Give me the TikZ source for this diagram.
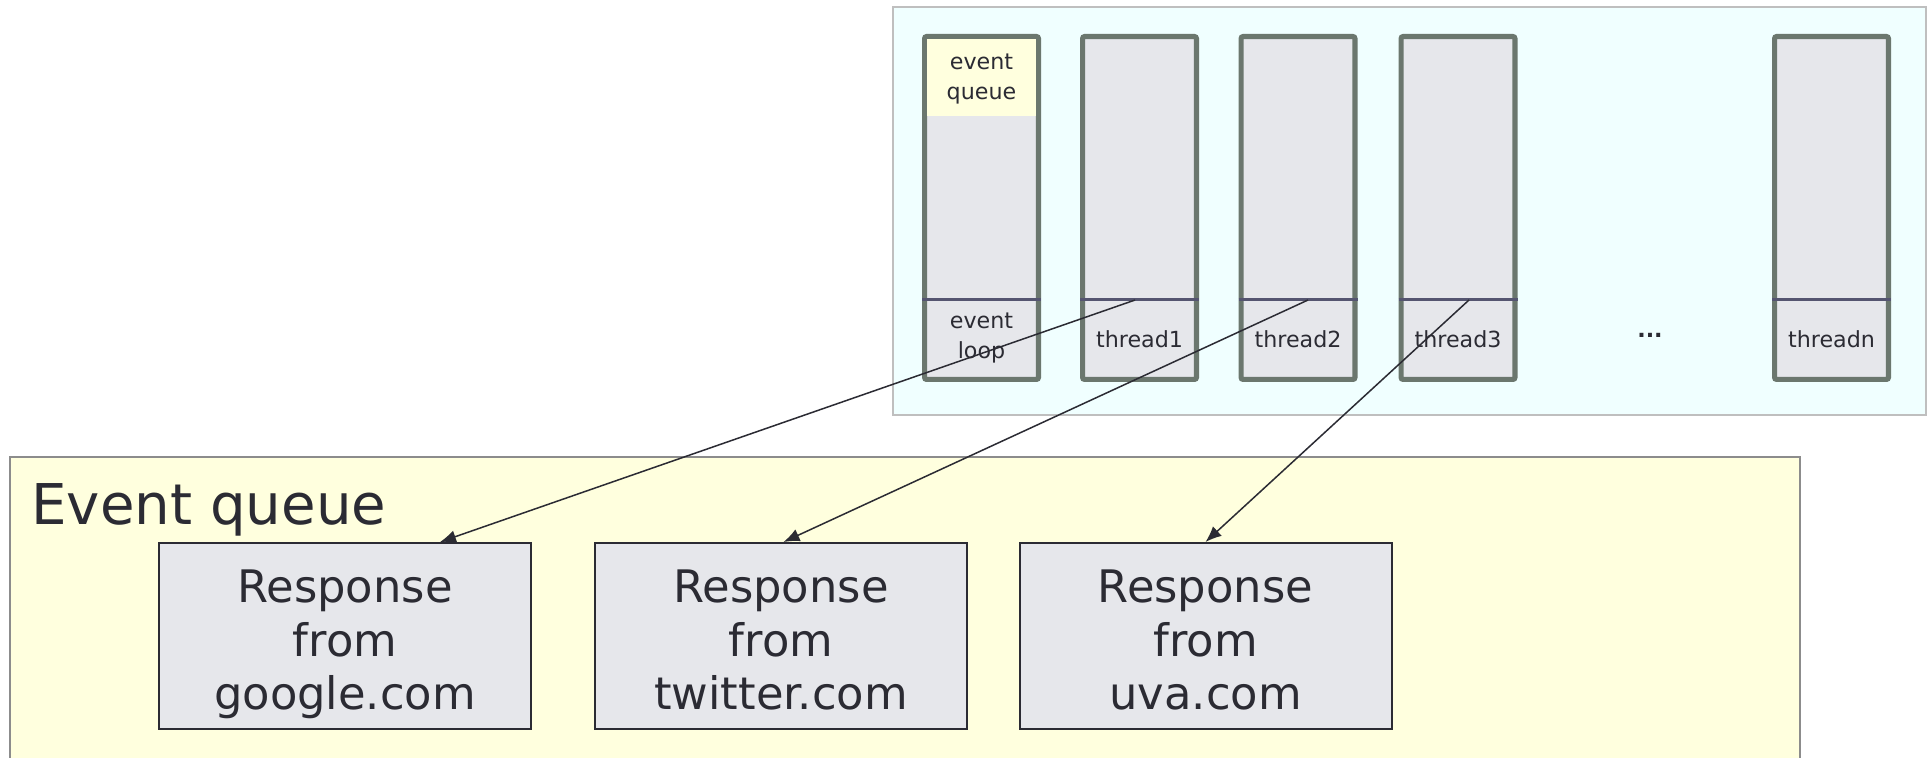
\documentclass[tikz,border=0pt]{standalone}
\usepackage{fontspec}
\setmainfont{DejaVu Sans}
\usepackage{tikz}
\usetikzlibrary{calc}
\usetikzlibrary{positioning}
\usetikzlibrary {arrows.meta}
\usepackage{xcolor}
\definecolor{ink}{HTML}{2B2B33}
\definecolor{colfill}{HTML}{E6E7EB}
\definecolor{colline}{HTML}{6B776E}
\definecolor{divline}{HTML}{555570}
\definecolor{poolbg}{HTML}{F0FFFF}
\definecolor{queuebg}{HTML}{FFFFDE}

\begin{document}
\begin{tikzpicture}[x=0.5pt, y=-0.5pt,
		c/.style = {rectangle, draw=colline, fill=colfill, line width=2.6pt, rounded corners=1pt,
			minimum width=56.9pt, minimum height=171.4pt, inner sep=0},
		d/.style = {draw=divline, line width=1.5pt},
		l/.style = {font=\fontsize{11.1}{15.2}\selectfont, text=ink, align=center, inner sep=0},
		resp/.style = {rectangle, draw=ink, fill=colfill, line width=1pt,
			minimum width=186pt, minimum height=93pt, align=center, inner sep=0,
			font=\fontsize{22.4}{26.8}\selectfont, text=ink},
		r/.style = {-{Latex[length=8pt, width=6.5pt]}, line width=0.75pt, draw=ink},
		]
		
		\useasboundingbox (0, 0) rectangle (1932, 758);
		\fill[white] (0, 0) rectangle (1932, 758);
		
		% thread pool
		\draw[draw=black!25, fill=poolbg, line width=1pt]	(893, 7)	rectangle	(1926, 415);
		
		\node[c]	(el)	at	(981.5, 208)	{};
		\node[c]	(t1)	at	(1139.5, 208)	{};
		\node[c]	(t2)	at	(1298, 208)		{};
		\node[c]	(t3)	at	(1458, 208)		{};
		\node[c]	(tn)	at	(1831.5, 208)	{};
		
		\fill[queuebg]	(927, 39)	rectangle	(1036, 116);
		\node[l]	(eq)	at	(981.5, 79)		{event\\queue};
		
		\draw[d]	([yshift=41pt]el.south west)	--	([yshift=41pt]el.south east);
		\draw[d]	([yshift=41pt]t1.south west)	--	([yshift=41pt]t1.south east);
		\draw[d]	([yshift=41pt]t2.south west)	--	([yshift=41pt]t2.south east);
		\draw[d]	([yshift=41pt]t3.south west)	--	([yshift=41pt]t3.south east);
		\draw[d]	([yshift=41pt]tn.south west)	--	([yshift=41pt]tn.south east);
		
		\node[l]	(l0)	at	(981.5, 338)	{event\\loop};
		\node[l]	(l1)	at	(1139.5, 339)	{thread1};
		\node[l]	(l2)	at	(1298, 339)		{thread2};
		\node[l]	(l3)	at	(1458, 339)		{thread3};
		\node[l]	(dots)	at	(1650, 335)		{\textbf{...}};
		\node[l]	(ln)	at	(1831.5, 339)	{threadn};
		
		\coordinate	(s1)	at	([yshift=41pt, xshift=-2.2pt]t1.south);
		\coordinate	(s2)	at	([yshift=41pt, xshift=5pt]t2.south);
		\coordinate	(s3)	at	([yshift=41pt, xshift=5.5pt]t3.south);
		
		% event queue
		\draw[draw=black!45, fill=queuebg, line width=1pt]	(10, 457)	rectangle	(1800, 780);
		\node[font=\fontsize{28.1}{34}\selectfont, text=ink, anchor=base west, inner sep=0]
					(title)	at	(31, 525)		{Event queue};
		
		\node[resp]	(g)		at	(345, 636)		{\rule{0pt}{26pt}Response\\from\\google.com\rule[-6pt]{0pt}{1pt}};
		\node[resp]	(tw)	at	(781, 636)		{\rule{0pt}{26pt}Response\\from\\twitter.com\rule[-6pt]{0pt}{1pt}};
		\node[resp]	(uva)	at	(1205.5, 636)	{\rule{0pt}{26pt}Response\\from\\uva.com\rule[-6pt]{0pt}{1pt}};
		
		\draw[r]	(s1)	to	($(g.north)+(95, 0)$);
		\draw[r]	(s2)	to	($(tw.north)+(2.5, 0)$);
		\draw[r]	(s3)	to	(uva.north);
	\end{tikzpicture}
\end{document}
